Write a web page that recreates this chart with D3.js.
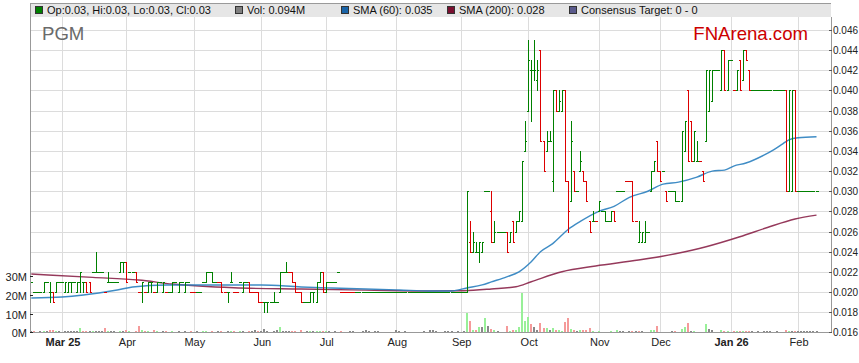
<!DOCTYPE html>
<html><head><meta charset="utf-8">
<script src="https://cdn.jsdelivr.net/npm/d3@7"></script>
<style>
body{margin:0;background:#fff}
svg{display:block}
text{font-family:Arial,"Liberation Sans",sans-serif}
</style>
</head><body>
<svg id="c" width="859" height="363"></svg>
<script>
// ---------- DATA (one line per trading week, Mon..Fri, first week = 17 Feb 2025) ----------
const ticker = "PGM";
const startDate = "2025-02-17";
const open = [
.021,.020,.020,.020,.020, .021,.020,.020,.020,.021, .021,.020,.020,.021,.021, .020,.021,.021,.021,.021,
.022,.022,.022,.022,.020, .021,.021,.021,.021,.022, .023,.023,.022,.022,.022, .020,.020,.020,.020,.021,
.020,.020,.021,.020,.020, .020,.020,.021,.020,.021, .020,.021,.020,.020,.020, .020,.021,.021,.022,.022,
.021,.021,.021,.020,.020, .021,.020,.020,.021,.020, .021,.021,.020,.020,.020, .019,.019,.019,.019,.019,
.019,.020,.022,.022,.022, .022,.021,.020,.020,.019, .019,.019,.020,.019,.021, .022,.020,.021,.021,.021,
.022,.020,.020,.020,.020, .020,.020,.020,.020,.020, .020,.020,.020,.020,.020, .020,.020,.020,.020,.020,
.020,.020,.020,.020,.020, .020,.020,.020,.020,.020, .020,.020,.020,.020,.020, .020,.020,.020,.020,.020,
.020,.020,.020,.025,.024, .024,.024,.024,.030,.030, .028,.025,.026,.026,.026, .026,.025,.027,.026,.027,
.027,.034,.038,.042,.042, .041,.044,.035,.034,.035, .031,.040,.038,.038,.040, .031,.029,.032,.030,.032,
.032,.031,.027,.027,.027, .028,.028,.028,.027,.027, .028,.030,.030,.030,.031, .031,.031,.027,.025,.025,
.025,.026,.030,.032,.035, .032,.032,.030,.030,.030, .030,.029,.029,.034,.040, .037,.033,.033,.033,.032,
.035,.038,.039,.042,.042, .040,.044,.040,.043,.040, .040,.043,.041,.044,.042, .040,.040,.040,.040,.040,
.040,.040,.040,.040,.040, .040,.040,.030,.030,.040, .030,.030,.030,.030,.030, .030,.030];
const high = [
.021,.020,.020,.020,.021, .021,.021,.020,.021,.021, .021,.021,.021,.021,.021, .021,.022,.021,.021,.021,
.022,.024,.022,.022,.020, .022,.021,.021,.021,.023, .023,.023,.022,.022,.022, .020,.021,.020,.021,.021,
.020,.021,.021,.021,.020, .020,.021,.021,.021,.021, .021,.021,.020,.020,.020, .020,.021,.022,.022,.022,
.021,.021,.021,.020,.020, .022,.020,.020,.021,.021, .021,.021,.020,.020,.020, .019,.019,.019,.019,.020,
.019,.022,.022,.023,.022, .022,.021,.020,.020,.019, .019,.020,.020,.021,.022, .022,.021,.021,.021,.021,
.022,.020,.020,.020,.020, .020,.020,.020,.020,.020, .020,.020,.020,.020,.020, .020,.020,.020,.020,.020,
.020,.020,.020,.020,.020, .020,.020,.020,.020,.020, .020,.020,.020,.020,.020, .020,.020,.020,.020,.020,
.020,.020,.030,.027,.026, .025,.025,.025,.030,.030, .030,.027,.026,.026,.026, .026,.026,.027,.027,.028,
.033,.037,.045,.043,.045, .043,.044,.035,.036,.036, .040,.040,.040,.040,.040, .031,.037,.032,.030,.034,
.032,.031,.027,.028,.027, .029,.028,.028,.027,.028, .028,.030,.030,.030,.031, .031,.031,.027,.027,.026,
.027,.026,.032,.033,.035, .032,.032,.030,.030,.030, .030,.029,.036,.037,.040, .037,.036,.035,.033,.032,
.042,.042,.042,.042,.042, .044,.044,.043,.043,.040, .042,.043,.044,.044,.042, .040,.040,.040,.040,.040,
.040,.040,.040,.040,.040, .040,.040,.040,.040,.040, .030,.030,.030,.030,.030, .030,.030];
const low = [
.021,.020,.020,.020,.020, .021,.019,.019,.020,.021, .021,.020,.020,.020,.021, .020,.020,.020,.020,.020,
.022,.022,.022,.022,.020, .021,.021,.021,.021,.022, .022,.021,.022,.022,.021, .020,.019,.020,.020,.020,
.020,.020,.021,.020,.020, .020,.020,.021,.020,.021, .020,.021,.020,.020,.020, .020,.021,.021,.022,.021,
.021,.021,.020,.020,.019, .021,.020,.020,.021,.020, .021,.020,.020,.020,.019, .019,.018,.018,.019,.019,
.019,.020,.022,.022,.022, .021,.020,.020,.019,.019, .019,.019,.019,.019,.021, .020,.020,.021,.021,.021,
.022,.020,.020,.020,.020, .020,.020,.020,.020,.020, .020,.020,.020,.020,.020, .020,.020,.020,.020,.020,
.020,.020,.020,.020,.020, .020,.020,.020,.020,.020, .020,.020,.020,.020,.020, .020,.020,.020,.020,.020,
.020,.020,.020,.024,.024, .024,.023,.024,.030,.030, .025,.025,.026,.026,.026, .024,.025,.025,.026,.027,
.027,.034,.038,.037,.041, .040,.035,.032,.034,.035, .030,.038,.038,.038,.031, .026,.029,.030,.030,.032,
.031,.029,.026,.027,.027, .028,.028,.027,.027,.027, .027,.030,.030,.030,.031, .031,.027,.027,.025,.025,
.025,.026,.030,.032,.032, .031,.032,.029,.030,.030, .029,.029,.029,.034,.033, .033,.033,.033,.033,.031,
.035,.038,.039,.042,.042, .040,.040,.040,.043,.040, .040,.040,.041,.043,.040, .040,.040,.040,.040,.040,
.040,.040,.040,.040,.040, .040,.030,.030,.030,.030, .030,.030,.030,.030,.030, .030,.030];
const close = [
.021,.020,.020,.020,.021, .021,.020,.019,.021,.021, .021,.021,.021,.021,.021, .021,.022,.021,.020,.020,
.022,.022,.022,.022,.020, .021,.021,.021,.021,.023, .023,.021,.022,.022,.021, .020,.021,.020,.021,.021,
.020,.021,.021,.021,.020, .020,.021,.021,.021,.021, .021,.021,.020,.020,.020, .020,.021,.022,.022,.021,
.021,.021,.020,.020,.020, .021,.020,.020,.021,.021, .021,.020,.020,.020,.019, .019,.019,.019,.019,.019,
.019,.022,.022,.022,.022, .021,.020,.020,.019,.019, .019,.020,.020,.021,.022, .020,.021,.021,.021,.021,
.022,.020,.020,.020,.020, .020,.020,.020,.020,.020, .020,.020,.020,.020,.020, .020,.020,.020,.020,.020,
.020,.020,.020,.020,.020, .020,.020,.020,.020,.020, .020,.020,.020,.020,.020, .020,.020,.020,.020,.020,
.020,.020,.030,.024,.025, .024,.025,.025,.030,.030, .025,.026,.026,.026,.026, .024,.026,.025,.027,.028,
.033,.035,.043,.042,.042, .042,.035,.032,.035,.035, .040,.038,.039,.040,.031, .028,.035,.030,.030,.033,
.031,.029,.026,.027,.027, .029,.028,.027,.027,.028, .027,.030,.030,.030,.031, .031,.027,.027,.026,.026,
.026,.026,.032,.033,.032, .031,.032,.029,.030,.030, .029,.029,.036,.037,.033, .033,.036,.033,.033,.031,
.042,.042,.042,.042,.042, .044,.040,.043,.043,.040, .042,.040,.044,.043,.040, .040,.040,.040,.040,.040,
.040,.040,.040,.040,.040, .040,.030,.040,.040,.030, .030,.030,.030,.030,.030, .030,.030];
// u = up bar (green), d = down bar (red)
const direction = [
"uuuuu","uuduu","uuuuu","uuudd","uuuud","uuuuu","uduud","duduu","duuud","uuuuu","uuddu","uuuuu","udddu",
"udduu","udddd","duuuu","uuuud","ddddu","uuuuu","duuuu","udddd","duuuu","uuuuu","uuuuu","uuuuu","uuuuu",
"uuuuu","uuuuu","uuudu","uuuuu","duuuu","duduu","uuuuu","udduu","uduud","duduu","dddud","uuuuu","duuud",
"ddduu","uuuud","duduu","uuuud","duudd","uuuuu","uduud","ududd","uuuuu","uuuuu","uduud","uuuuu","uu"].join("");
// volume, millions of shares
const volume = [
.4,.6,0,.5,.8, .3,1.0,1.4,.8,.6, 0,.4,.3,.5,.6, .8,2.1,.9,.5,.3, .9,.7,.4,.5,2.5, .6,.3,.4,0,.4,
.3,1.0,.8,0,.5, 3.5,1.2,.6,.3,0, 1.0,.4,0,.3,.5, 0,.4,0,.3,0, .4,0,.3,0,.5, 0,.3,.6,0,.3,
0,.4,.5,0,.6, .5,.3,0,.6,.3, 0,.8,.4,1.2,.6, .3,1.6,.5,0,.4, 1.0,2.7,.8,.4,.3, .5,.4,0,1.0,0,
.4,.3,.5,.5,.4, .5,.4,.3,0,.4, 0,.6,0,0,.3, .3,0,0,.3,1.0, .5,0,.8,.3,0, 0,0,0,0,1.0,
.3,0,.4,0,0, 0,0,0,.3,0, 1.2,1.2,.5,0,0, .4,.5,.4,0,.3, 0,.5,10.4,5.9,1.0, 1.2,2.9,2.9,7.7,3.4,
2.0,1.0,.5,0,0, 3.4,.8,1.2,1.5,2.9, 21,6.0,8.2,4.6,2.9, 1.5,5.0,2.3,2.3,1.0, 2.3,1.0,1.0,.6,5.5,
7.7,1.8,1.0,.6,1.0, 1.0,1.0,2.1,.5,0, .3,0,0,0,.3, 0,1.2,.6,.3,0, .4,.5,.4,.6,.3,
0,0,1.5,1.5,3.6, 0,0,0,0,.3, .3,0,2.0,3.0,5.0, .5,.5,0,0,0, 4.3,2.0,1.0,0,0,
1.5,.5,.3,0,.3, .3,.3,.3,.3,.5, .3,0,.3,0,.3, .3,.3,0,.3,0, 0,1.0,.3,.3,.5, .3,.3,.4,.6,.8, .5,.094];
// moving averages (trading-day number, value)
const sma60Day = [0,10,17,22,28,33,44,55,66,75,88,98,109,120,130,137,142,147,150,155,159,163,166,170,175,179,185,190,195,201,206,211,217,222,226,229,233,239,242,245,247,250,256];
const sma60 = [.0194,.0195,.0197,.0199,.0202,.0205,.0207,.0207,.0207,.0207,.0205,.0204,.0203,.0202,.0201,.0201,.0204,.0207,.0210,.0215,.0220,.0230,.0240,.0248,.0262,.0270,.0280,.0285,.0294,.0300,.0307,.0309,.0314,.0320,.0321,.0325,.0328,.0336,.0341,.0347,.0351,.0353,.0354];
const sma200Day = [0,20,35,46,66,88,109,130,141,150,158,163,173,184,198,210,220,231,240,249,256];
const sma200 = [.02178,.02145,.02119,.02079,.02042,.02029,.02019,.0201,.02013,.0203,.02052,.02102,.02201,.02258,.02317,.0238,.02449,.02548,.0264,.02724,.02763];
const priceTicks = [.016,.018,.020,.022,.024,.026,.028,.030,.032,.034,.036,.038,.040,.042,.044,.046];
const volumeTicks = [0,10,20,30];
const volumeTickLabels = ["0M","10M","20M","30M"];
const monthStarts = ["2025-03-01","2025-04-01","2025-05-01","2025-06-01","2025-07-01","2025-08-01","2025-09-01","2025-10-01","2025-11-01","2025-12-01","2026-01-01","2026-02-01"];
const monthLabels = ["Mar 25","Apr","May","Jun","Jul","Aug","Sep","Oct","Nov","Dec","Jan 26","Feb"];
const legendItems = [
  {label:"Op:0.03, Hi:0.03, Lo:0.03, Cl:0.03", color:"#008000", x:35},
  {label:"Vol: 0.094M", color:"#808080", x:235},
  {label:"SMA (60): 0.035", color:"#1a64a8", x:341},
  {label:"SMA (200): 0.028", color:"#7a1030", x:447},
  {label:"Consensus Target: 0 - 0", color:"#5a5a8c", x:569}
];

// ---------- LAYOUT ----------
const L = 30, R = 831, T = 3, B = 332;
const svg = d3.select("#c");
const parse = d3.timeParse("%Y-%m-%d");

// trading (week) days
const dates = [];
for (let d = parse(startDate); dates.length < close.length; d = d3.timeDay.offset(d, 1)) {
  if (d.getDay() !== 0 && d.getDay() !== 6) dates.push(new Date(d));
}
const n = close.length;
const x = d3.scaleLinear().domain([-0.42, 260.4]).range([L, 830]);
const y = d3.scaleLinear().domain([0.016, 0.046]).range([332.3, 30]);
const yv = d3.scaleLinear().domain([0, 30]).range([332.3, 276.3]);

// legend band
svg.append("rect").attr("x", L).attr("y", T).attr("width", R - L).attr("height", 14).attr("fill", "#e6e6e6");
svg.append("line").attr("x1", L).attr("x2", R).attr("y1", T + 0.5).attr("y2", T + 0.5).attr("stroke", "#9a9a9a");

// grid
const monthIdx = monthStarts.map(s => { const m = parse(s); return dates.findIndex(d => d >= m); });
const g = svg.append("g").attr("shape-rendering", "crispEdges");
g.selectAll("line.h").data(priceTicks).join("line")
  .attr("x1", L).attr("x2", R).attr("y1", d => Math.round(y(d)) + 0.5).attr("y2", d => Math.round(y(d)) + 0.5)
  .attr("stroke", "#dcdcdc");
g.selectAll("line.v").data(monthIdx).join("line")
  .attr("x1", d => Math.round(x(d)) + 0.5).attr("x2", d => Math.round(x(d)) + 0.5)
  .attr("y1", T + 14).attr("y2", B).attr("stroke", "#dcdcdc");

// watermark texts
svg.append("text").attr("x", 42).attr("y", 39.5).attr("font-size", 18.6).attr("fill", "#6a6a6a").text(ticker);
svg.append("text").attr("x", 808).attr("y", 39.5).attr("font-size", 18.6).attr("fill", "#cc0000")
  .attr("text-anchor", "end").text("FNArena.com");

// volume bars
const vg = svg.append("g").attr("shape-rendering", "crispEdges");
volume.forEach((v, i) => {
  if (!v) return;
  const prev = i > 0 ? close[i - 1] : close[i];
  const col = close[i] > prev ? "#98f098" : close[i] < prev ? "#f59a9a" : "#888888";
  const top = Math.round(yv(v)), bot = Math.round(yv(0));
  vg.append("rect").attr("x", Math.round(x(i)) - 1).attr("y", Math.min(top, bot - 1))
    .attr("width", 2).attr("height", Math.max(1, bot - top)).attr("fill", col);
});

// moving averages
const line = d3.line().x(d => x(d[0])).y(d => y(d[1])).curve(d3.curveMonotoneX);
svg.append("path").attr("d", line(sma200Day.map((d, i) => [d, sma200[i]])))
  .attr("fill", "none").attr("stroke", "#8a2449").attr("stroke-width", 1.4).attr("opacity", 0.9);
svg.append("path").attr("d", line(sma60Day.map((d, i) => [d, sma60[i]])))
  .attr("fill", "none").attr("stroke", "#2a7fbf").attr("stroke-width", 1.4).attr("opacity", 0.9);

// OHLC bars
const bg = svg.append("g").attr("shape-rendering", "crispEdges");
for (let i = 0; i < n; i++) {
  const c = Math.round(x(i));
  const col = direction[i] === "d" ? "#dd0000" : "#008000";
  const yh = Math.round(y(high[i])), yl = Math.round(y(low[i]));
  const yo = Math.round(y(open[i])), yc = Math.round(y(close[i]));
  bg.append("rect").attr("x", c).attr("y", yh).attr("width", 1).attr("height", yl - yh + 1).attr("fill", col);
  bg.append("rect").attr("x", c - 1).attr("y", yo).attr("width", 1).attr("height", 1).attr("fill", col);
  bg.append("rect").attr("x", c + 1).attr("y", yc).attr("width", 1).attr("height", 1).attr("fill", col);
}

// frame
const fr = svg.append("g").attr("shape-rendering", "crispEdges").attr("stroke", "#999");
fr.append("line").attr("x1", L + 0.5).attr("x2", L + 0.5).attr("y1", T).attr("y2", B + 1);
fr.append("line").attr("x1", R + 0.5).attr("x2", R + 0.5).attr("y1", T + 14).attr("y2", B + 1);
fr.append("line").attr("x1", L).attr("x2", R + 1).attr("y1", B + 0.5).attr("y2", B + 0.5);

// right price axis
const ra = svg.append("g");
priceTicks.forEach(p => {
  const yy = Math.round(y(p)) + 0.5;
  ra.append("line").attr("x1", R - 2).attr("x2", R + 1).attr("y1", yy).attr("y2", yy)
    .attr("stroke", "#555").attr("shape-rendering", "crispEdges");
  ra.append("text").attr("x", 833).attr("y", yy + 3.5).attr("font-size", 10).attr("fill", "#222")
    .text(d3.format(".3f")(p));
});

// left volume axis
volumeTicks.forEach((v, k) => {
  const yy = Math.round(yv(v)) + 0.5;
  svg.append("line").attr("x1", L).attr("x2", L + 3).attr("y1", yy).attr("y2", yy)
    .attr("stroke", "#222").attr("shape-rendering", "crispEdges");
  svg.append("text").attr("x", 27).attr("y", yy + 4).attr("font-size", 11).attr("fill", "#222")
    .attr("text-anchor", "end").text(volumeTickLabels[k]);
});

// bottom time axis
monthIdx.forEach((i, k) => {
  svg.append("text").attr("x", x(i) + 1).attr("y", 345.5).attr("font-size", 11).attr("fill", "#222")
    .attr("text-anchor", "middle").attr("font-weight", /\d/.test(monthLabels[k]) ? "bold" : "normal")
    .text(monthLabels[k]);
});

// legend
const lg = svg.append("g");
legendItems.forEach(it => {
  lg.append("rect").attr("x", it.x + 0.5).attr("y", 6.5).attr("width", 7).attr("height", 7)
    .attr("fill", it.color).attr("stroke", "#333").attr("shape-rendering", "crispEdges");
  lg.append("text").attr("x", it.x + 12).attr("y", 14).attr("font-size", 11).attr("fill", "#111").text(it.label);
});
</script>
</body></html>
